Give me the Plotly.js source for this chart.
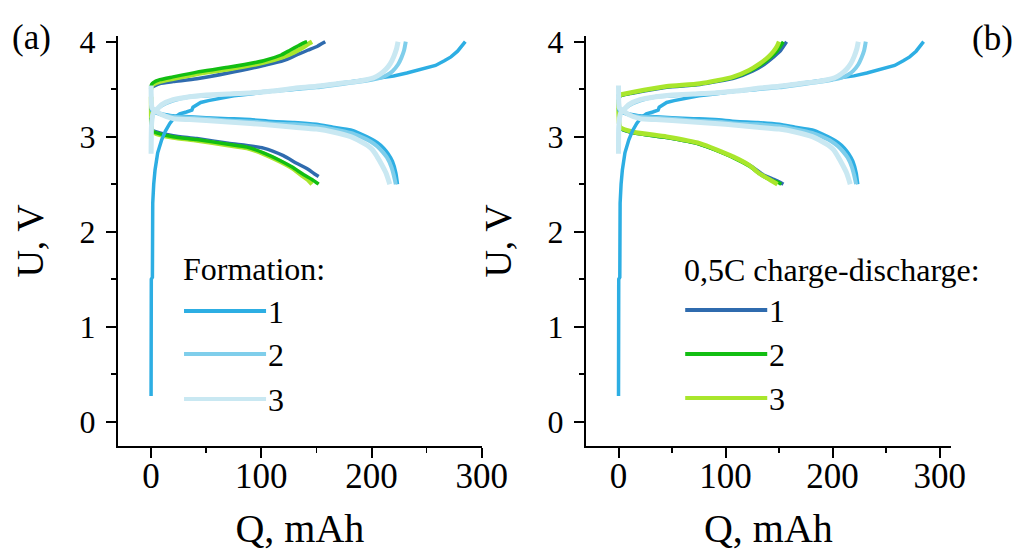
<!DOCTYPE html>
<html>
<head>
<meta charset="utf-8">
<script src="https://cdn.plot.ly/plotly-3.0.1.min.js"></script>
<style>html,body{margin:0;padding:0;background:#fff;}#chart{width:1018px;height:551px;}</style>
</head>
<body>
<div id="chart"></div>
<script>
// ---------- Formation cycles (shared by both panels) ----------
const f1ChargeQ = [0, 0, 0.2, 1.2, 1.2, 1.5, 2.4, 3.6, 6, 9.7, 13, 17, 21, 26, 32, 34, 37, 38, 41, 45, 52, 60, 75, 90, 110, 130, 150, 170, 190, 205, 220, 232, 242, 250, 258, 266, 272, 278, 282, 285];
const f1ChargeU = [0.27, 1.0, 1.5, 1.52, 2.2, 2.3, 2.5, 2.65, 2.83, 2.97, 3.06, 3.14, 3.2, 3.24, 3.26, 3.27, 3.28, 3.31, 3.33, 3.36, 3.38, 3.40, 3.43, 3.45, 3.48, 3.5, 3.53, 3.56, 3.59, 3.61, 3.64, 3.67, 3.70, 3.72, 3.75, 3.8, 3.84, 3.9, 3.95, 4.0];
const f1DischQ = [0, 0.5, 2, 5, 10, 20, 35, 50, 70, 90, 110, 130, 150, 165, 181, 190, 199, 205, 211, 215, 219, 222, 223.5];
const f1DischU = [3.3, 3.28, 3.26, 3.25, 3.24, 3.22, 3.21, 3.2, 3.19, 3.18, 3.16, 3.15, 3.13, 3.1, 3.07, 3.03, 2.98, 2.94, 2.88, 2.82, 2.74, 2.62, 2.5];

const f2ChargeQ = [0, 0.3, 1, 2, 3.6, 10, 20, 35, 50, 70, 90, 110, 130, 150, 170, 190, 200, 208, 214, 219, 224, 227, 229.5, 231];
const f2ChargeU = [2.85, 3.1, 3.2, 3.25, 3.27, 3.33, 3.38, 3.42, 3.43, 3.45, 3.46, 3.48, 3.5, 3.52, 3.55, 3.58, 3.6, 3.62, 3.65, 3.69, 3.76, 3.83, 3.91, 4.0];
const f2DischQ = [0, 0.5, 2, 5, 10, 20, 35, 50, 70, 90, 110, 130, 150, 165, 181, 190, 199, 205, 210, 214, 218, 220, 222];
const f2DischU = [3.45, 3.3, 3.27, 3.25, 3.23, 3.21, 3.2, 3.19, 3.17, 3.16, 3.14, 3.13, 3.11, 3.08, 3.04, 3.0, 2.95, 2.9, 2.84, 2.78, 2.68, 2.6, 2.5];

const f3ChargeQ = [0, 0.3, 1, 2, 3.6, 10, 20, 35, 50, 70, 90, 110, 130, 150, 170, 185, 195, 202, 208, 213, 217, 220, 222.5, 224];
const f3ChargeU = [2.82, 3.1, 3.2, 3.25, 3.27, 3.34, 3.39, 3.42, 3.44, 3.45, 3.46, 3.48, 3.51, 3.53, 3.56, 3.58, 3.6, 3.62, 3.66, 3.71, 3.77, 3.84, 3.92, 4.0];
const f3DischQ = [0, 0.3, 1, 3.6, 10, 20, 35, 50, 70, 90, 110, 130, 150, 165, 181, 190, 196, 201, 205, 209, 213, 216.5];
const f3DischU = [3.54, 3.35, 3.3, 3.28, 3.23, 3.19, 3.18, 3.17, 3.155, 3.14, 3.12, 3.1, 3.08, 3.05, 3.0, 2.95, 2.91, 2.86, 2.79, 2.71, 2.62, 2.5];

// ---------- 0,5C charge-discharge, panel (a) ----------
const a1ChargeQ = [0, 0.5, 2, 8, 20, 41.5, 70, 102, 120, 132, 142, 150.6, 155, 158];
const a1ChargeU = [3.5, 3.52, 3.53, 3.56, 3.58, 3.61, 3.67, 3.75, 3.8, 3.86, 3.91, 3.95, 3.98, 4.0];
const a2ChargeQ = [0, 0.5, 2, 8, 20, 41.5, 70, 102, 118, 126, 134, 139, 141.5];
const a2ChargeU = [3.53, 3.55, 3.57, 3.6, 3.63, 3.68, 3.73, 3.8, 3.86, 3.91, 3.96, 3.99, 4.0];
const a3ChargeQ = [0, 0.5, 2, 8, 20, 41.5, 70, 102, 120, 130, 138, 143, 146];
const a3ChargeU = [3.5, 3.53, 3.55, 3.58, 3.61, 3.66, 3.71, 3.78, 3.84, 3.89, 3.94, 3.98, 4.0];

const a1DischQ = [0, 0.3, 1, 5, 20, 41.5, 70, 102, 120, 132, 142, 148, 152];
const a1DischU = [3.1, 3.08, 3.07, 3.05, 3.01, 2.98, 2.93, 2.88, 2.8, 2.72, 2.66, 2.61, 2.58];
const a2DischQ = [0, 0.3, 1, 5, 20, 41.5, 70, 87, 102, 117, 128, 138.5, 146, 152];
const a2DischU = [3.2, 3.1, 3.06, 3.04, 3.0, 2.97, 2.92, 2.89, 2.83, 2.75, 2.68, 2.6, 2.55, 2.5];
const a3DischQ = [0, 0.3, 1, 5, 20, 41.5, 70, 87, 102, 117, 128, 137, 142, 146];
const a3DischU = [3.42, 3.1, 3.06, 3.03, 2.99, 2.96, 2.91, 2.88, 2.82, 2.74, 2.67, 2.59, 2.55, 2.5];

// ---------- 0,5C charge-discharge, panel (b) ----------
const b1ChargeQ = [0, 0.5, 1.6, 14, 45, 76, 109, 125, 136, 145, 151, 154, 157];
const b1ChargeU = [3.38, 3.4, 3.43, 3.46, 3.52, 3.55, 3.62, 3.69, 3.76, 3.84, 3.9, 3.95, 4.0];
const b2ChargeQ = [0, 0.5, 1.6, 14, 45, 76, 108, 123.5, 134, 142.5, 148, 151, 154];
const b2ChargeU = [3.38, 3.41, 3.43, 3.465, 3.525, 3.555, 3.625, 3.695, 3.765, 3.84, 3.9, 3.95, 4.0];
const b3ChargeQ = [0, 0.5, 1.6, 14, 45, 76, 107, 122, 132, 140, 145, 148, 150];
const b3ChargeU = [3.42, 3.43, 3.44, 3.47, 3.53, 3.56, 3.63, 3.7, 3.77, 3.84, 3.9, 3.95, 4.0];

const b1DischQ = [0, 0.5, 1.6, 14, 45, 76, 108, 124, 135, 145, 151, 154];
const b1DischU = [3.15, 3.12, 3.09, 3.04, 2.99, 2.92, 2.78, 2.69, 2.6, 2.55, 2.52, 2.5];
const b2DischQ = [0, 0.5, 1.6, 14, 45, 76, 107, 122, 133, 143, 149, 152];
const b2DischU = [3.3, 3.14, 3.09, 3.04, 2.99, 2.92, 2.78, 2.69, 2.6, 2.54, 2.52, 2.5];
const b3DischQ = [0, 0.5, 1.6, 14, 45, 76, 107, 122, 132, 141, 148.5];
const b3DischU = [3.39, 3.15, 3.1, 3.05, 3.0, 2.93, 2.79, 2.7, 2.61, 2.55, 2.5];

// ---------- labels ----------
const formationTitle = "Formation:";
const rateTitle = "0,5C charge-discharge:";
const cycleLabels = ["1", "2", "3"];
const formationColors = ["#2DAEE3", "#7FCEEB", "#C9E8F2"];
const rateColors = ["#2F6BAE", "#12BE12", "#A9E62C"];
const xTicks = [0, 100, 200, 300];
const yTicks = [0, 1, 2, 3, 4];

const traces = [];
function add(q, u, color, width, xa, ya, name, shape) {
  traces.push({
    x: q, y: u, type: "scatter", mode: "lines", name: name,
    line: {color: color, width: width, shape: shape || "spline", smoothing: 0.6},
    xaxis: xa, yaxis: ya, showlegend: false, hoverinfo: "skip"
  });
}
const formation = [
  [f1ChargeQ, f1ChargeU, f1DischQ, f1DischU],
  [f2ChargeQ, f2ChargeU, f2DischQ, f2DischU],
  [f3ChargeQ, f3ChargeU, f3DischQ, f3DischU]
];
const fWidths = [3.5, 4, 5];
const rateA = [
  [a1ChargeQ, a1ChargeU, a1DischQ, a1DischU],
  [a2ChargeQ, a2ChargeU, a2DischQ, a2DischU],
  [a3ChargeQ, a3ChargeU, a3DischQ, a3DischU]
];
const rateB = [
  [b1ChargeQ, b1ChargeU, b1DischQ, b1DischU],
  [b2ChargeQ, b2ChargeU, b2DischQ, b2DischU],
  [b3ChargeQ, b3ChargeU, b3DischQ, b3DischU]
];
const panels = [["x", "y", rateA, [0, 2, 1]], ["x2", "y2", rateB, [0, 1, 2]]];
panels.forEach(([xa, ya, rate, order]) => {
  order.forEach(i => {
    const d = rate[i];
    const w = i === 2 ? 4.5 : 3.5;
    add(d[0], d[1], rateColors[i], w, xa, ya, "0,5C " + cycleLabels[i]);
    add(d[2], d[3], rateColors[i], w, xa, ya, "0,5C " + cycleLabels[i]);
  });
  formation.forEach((d, i) => {
    add(d[0], d[1], formationColors[i], fWidths[i], xa, ya, "Formation " + cycleLabels[i], i === 0 ? "linear" : "spline");
    add(d[2], d[3], formationColors[i], fWidths[i], xa, ya, "Formation " + cycleLabels[i]);
  });
});

const W = 1018, H = 551;
const font = "Liberation Serif, Times New Roman, serif";
function axisX(domain, range) {
  return {
    domain: domain, range: range, tickvals: xTicks, showgrid: false, zeroline: false,
    showline: true, linecolor: "#000", linewidth: 2, ticks: "outside", ticklen: 10, tickwidth: 2, tickcolor: "#000",
    minor: {ticks: "outside", dtick: 50, ticklen: 5, tickwidth: 1.5, tickcolor: "#000", showgrid: false},
    tickfont: {family: font, size: 35, color: "#000"}, ticklabelstandoff: -12,
    title: {text: "Q, mAh", font: {family: font, size: 40, color: "#000"}, standoff: 36}
  };
}
function axisY(anchor, range) {
  return {
    domain: [0, 1], range: range, tickvals: yTicks, showgrid: false, zeroline: false, anchor: anchor,
    showline: true, linecolor: "#000", linewidth: 2, ticks: "outside", ticklen: 10, tickwidth: 2, tickcolor: "#000",
    minor: {ticks: "outside", dtick: 0.5, ticklen: 5, tickwidth: 1.5, tickcolor: "#000", showgrid: false},
    tickfont: {family: font, size: 32, color: "#000"}, ticklabelstandoff: 4,
    title: {text: "U, V", font: {family: font, size: 38, color: "#000"}, standoff: 24}
  };
}

const mL = 118, mR = 67.3, mT = 36, mB = 105;
const pw = W - mL - mR, ph = H - mT - mB;
const xa1 = axisX([0, (481.7 - mL) / pw], [-30, 300]); xa1.anchor = "y";
const xa2 = axisX([(585.7 - mL) / pw, 1], [-30.5, 310.6]); xa2.anchor = "y2";
const ya1 = axisY("x", [-0.256, 4.06]);
const ya2 = axisY("x2", [-0.256, 4.06]);

// paper coordinates span the plotting area inside the margins
const shapes = [], annotations = [];
function px(x) { return (x - mL) / pw; }
function py(y) { return (H - mB - y) / ph; }
function legend(x0, yTitle, ys, title, colors) {
  annotations.push({xref: "paper", yref: "paper", x: px(x0 - 3), y: py(yTitle), xanchor: "left", yanchor: "middle",
    text: title, showarrow: false, font: {family: font, size: 32, color: "#000"}});
  ys.forEach((y, i) => {
    shapes.push({type: "line", xref: "paper", yref: "paper", x0: px(x0), x1: px(x0 + 82), y0: py(y), y1: py(y),
      line: {color: colors[i], width: 4}});
    annotations.push({xref: "paper", yref: "paper", x: px(x0 + 82), y: py(y + 1), xanchor: "left", yanchor: "middle",
      text: cycleLabels[i], showarrow: false, font: {family: font, size: 32, color: "#000"}});
  });
}
legend(184, 269, [311, 354, 399], formationTitle, formationColors);
legend(685, 270, [310, 354, 398], rateTitle, rateColors);
annotations.push({xref: "paper", yref: "paper", x: px(32), y: py(37), xanchor: "center", yanchor: "middle",
  text: "(a)", showarrow: false, font: {family: font, size: 35, color: "#000"}});
annotations.push({xref: "paper", yref: "paper", x: px(992), y: py(38), xanchor: "center", yanchor: "middle",
  text: "(b)", showarrow: false, font: {family: font, size: 35, color: "#000"}});

const layout = {
  width: W, height: H, margin: {l: mL, r: mR, t: mT, b: mB}, paper_bgcolor: "#fff", plot_bgcolor: "#fff",
  showlegend: false, xaxis: xa1, yaxis: ya1, xaxis2: xa2, yaxis2: ya2,
  shapes: shapes, annotations: annotations, font: {family: font, color: "#000"}
};
Plotly.newPlot("chart", traces, layout, {staticPlot: true, displayModeBar: false});
</script>
</body>
</html>
